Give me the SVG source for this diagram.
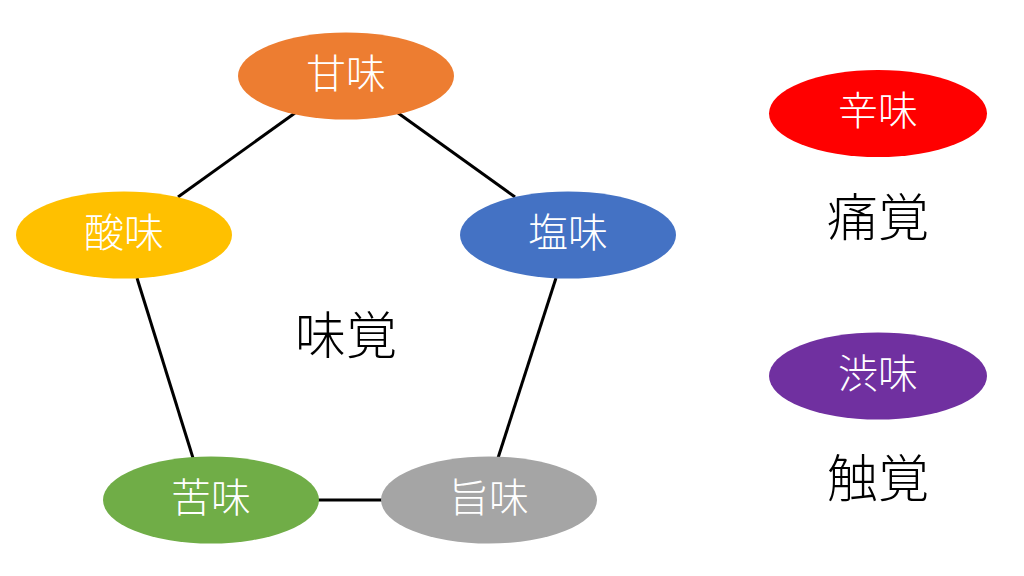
<svg xmlns="http://www.w3.org/2000/svg" width="1024" height="576" viewBox="0 0 1024 576">
<style>
.lbl{font-family:"Noto Sans CJK JP","Noto Sans CJK SC",sans-serif;font-weight:200;font-size:40px;fill:#fff;text-anchor:middle}
.big{font-family:"Noto Sans CJK JP","Noto Sans CJK SC",sans-serif;font-weight:200;font-size:51px;fill:#000;text-anchor:middle}
.edge{stroke:#000;stroke-width:3;fill:none}
</style>
<rect width="1024" height="576" fill="#fff"/>
<g id="connectors">
<line class="edge" x1="295" y1="113" x2="178" y2="197"/>
<line class="edge" x1="398" y1="113" x2="515" y2="197"/>
<line class="edge" x1="137" y1="278" x2="193" y2="458"/>
<line class="edge" x1="556" y1="278" x2="498" y2="458"/>
<line class="edge" x1="318" y1="500" x2="382" y2="500"/>
</g>
<g id="amami"><ellipse cx="346" cy="76" rx="108" ry="43.5" fill="#ED7D31"/><text class="lbl" x="346" y="88">甘味</text></g>
<g id="sanmi"><ellipse cx="124" cy="235" rx="108" ry="43.5" fill="#FFC000"/><text class="lbl" x="124" y="247">酸味</text></g>
<g id="enmi"><ellipse cx="568" cy="235" rx="108" ry="43.5" fill="#4472C4"/><text class="lbl" x="568" y="247">塩味</text></g>
<g id="nigami"><ellipse cx="211" cy="500" rx="108" ry="43.5" fill="#70AD47"/><text class="lbl" x="211" y="512">苦味</text></g>
<g id="umami"><ellipse cx="489" cy="500" rx="108" ry="43.5" fill="#A5A5A5"/><text class="lbl" x="489" y="512">旨味</text></g>
<g id="mikaku"><text class="big" x="346" y="354">味覚</text></g>
<g id="karami"><ellipse cx="878" cy="113.5" rx="109" ry="43.5" fill="#FF0000"/><text class="lbl" x="878" y="125">辛味</text></g>
<g id="tsukaku"><text class="big" x="878" y="236">痛覚</text></g>
<g id="shibumi"><ellipse cx="878" cy="376" rx="109" ry="43.5" fill="#7030A0"/><text class="lbl" x="878" y="388">渋味</text></g>
<g id="shokkaku"><text class="big" x="878" y="497">触覚</text></g>
</svg>
